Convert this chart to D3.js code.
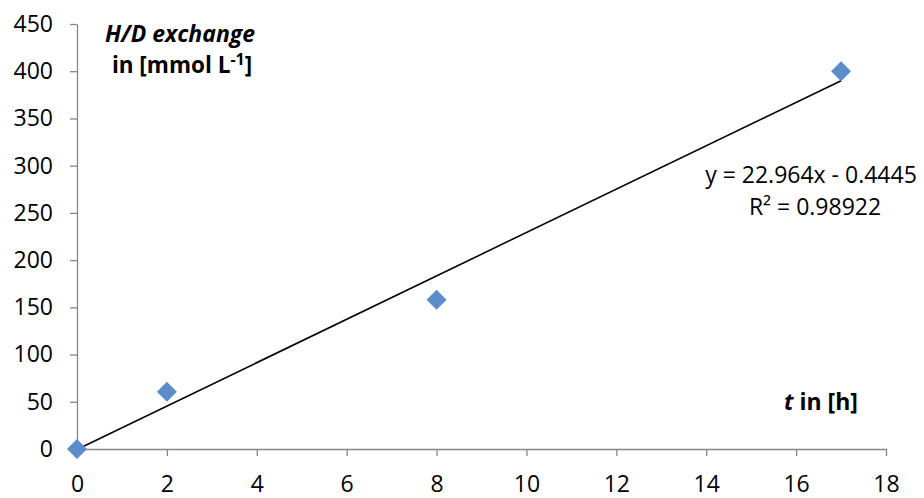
<!DOCTYPE html>
<html>
<head>
<meta charset="utf-8">
<script src="https://cdn.jsdelivr.net/npm/d3@7"></script>
<style>
  body { margin: 0; background: #fff; }
  svg text { font-family: "Open Sans", Lato, sans-serif; fill: #000; }
</style>
</head>
<body>
<svg id="chart" width="924" height="498"></svg>
<script>
// H/D exchange vs time, with linear trendline

var hours = [0, 2, 8, 17];
var exchange = [0, 60.5, 158, 400];
var xTicks = [0, 2, 4, 6, 8, 10, 12, 14, 16, 18];
var yTicks = [0, 50, 100, 150, 200, 250, 300, 350, 400, 450];
var slope = 22.964, intercept = -0.4445; // from trendline label
var eqLabel = "y = 22.964x - 0.4445";
var r2Label = "R² = 0.98922";

var svg = d3.select("#chart");
var axisColor = "#868686";
var fontFam = "'Open Sans', Lato, sans-serif";

var x = d3.scaleLinear().domain([0, 18]).range([77, 886]);
var y = d3.scaleLinear().domain([0, 450]).range([449, 24]);

// y axis
var yAxis = svg.append("g")
    .attr("transform", "translate(" + x(0) + ",0)")
    .call(d3.axisLeft(y).tickValues(yTicks).tickSize(7).tickPadding(17).tickSizeOuter(0));

// x axis
var xAxis = svg.append("g")
    .attr("transform", "translate(0," + y(0) + ")")
    .call(d3.axisBottom(x).tickValues(xTicks).tickSize(7).tickPadding(20).tickSizeOuter(0));

[xAxis, yAxis].forEach(function(g){
    g.selectAll("path, line").attr("stroke", axisColor).attr("stroke-width", 1.3);
    g.selectAll("text").attr("font-size", 23).attr("font-family", fontFam).attr("fill", "#000");
});

// trendline
var lineX = [d3.min(hours), d3.max(hours)];
svg.append("path")
    .attr("d", d3.line().x(d => x(d)).y(d => y(slope * d + intercept))(lineX))
    .attr("fill", "none")
    .attr("stroke", "#000")
    .attr("stroke-width", 1.6);

// diamond markers
var diamond = d3.symbol().type(d3.symbolSquare).size(200);
svg.selectAll(".pt")
    .data(hours.map((h, i) => ({x : h, y : exchange[i]})))
    .enter().append("path")
    .attr("class", "pt")
    .attr("d", diamond)
    .attr("transform", d => "translate(" + x(d.x) + "," + y(d.y) + ") rotate(45)")
    .attr("fill", "#5B8DC8");

// axis titles
svg.append("text")
    .attr("x", 180).attr("y", 42)
    .attr("text-anchor", "middle")
    .attr("font-size", 23).attr("font-weight", "bold").attr("font-style", "italic")
    .text("H/D exchange");

var yTitle2 = svg.append("text")
    .attr("x", 182).attr("y", 73)
    .attr("text-anchor", "middle")
    .attr("font-size", 22.5).attr("font-weight", "bold");
yTitle2.append("tspan").text("in [mmol L");
yTitle2.append("tspan").attr("font-size", 16).attr("dy", -8).text("-1");
yTitle2.append("tspan").attr("dy", 8).text("]");

var xTitle = svg.append("text")
    .attr("x", 821).attr("y", 410)
    .attr("text-anchor", "middle")
    .attr("font-size", 23).attr("font-weight", "bold");
xTitle.append("tspan").attr("font-style", "italic").text("t");
xTitle.append("tspan").text(" in [h]");

// trendline labels
svg.append("text")
    .attr("x", 811).attr("y", 183)
    .attr("text-anchor", "middle")
    .attr("font-size", 23)
    .text(eqLabel);
svg.append("text")
    .attr("x", 815).attr("y", 215)
    .attr("text-anchor", "middle")
    .attr("font-size", 23)
    .text(r2Label);
</script>
</body>
</html>
